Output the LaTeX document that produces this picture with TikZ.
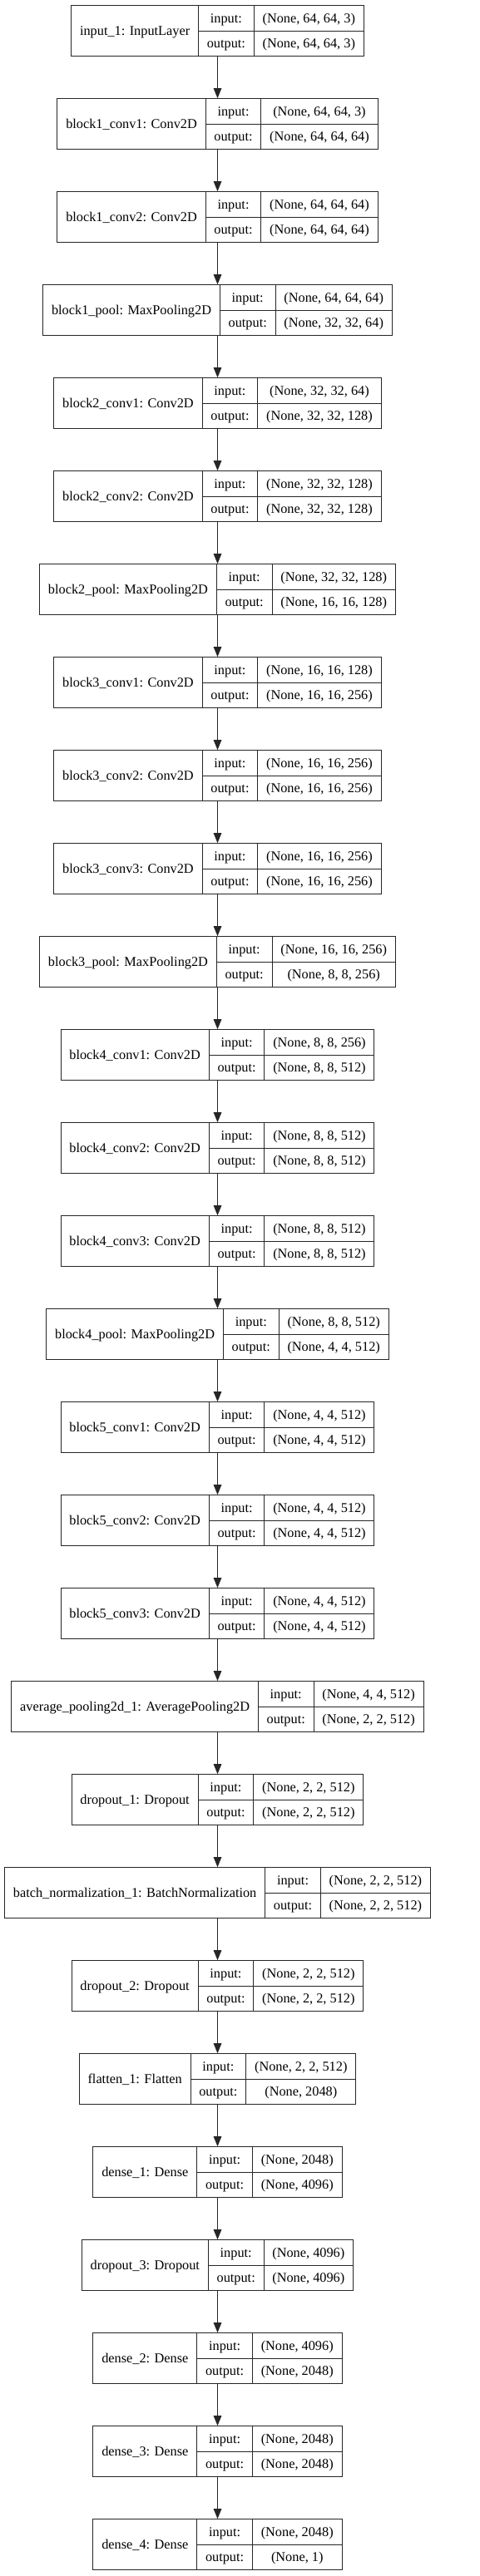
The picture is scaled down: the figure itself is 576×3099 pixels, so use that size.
\documentclass[tikz,border=0pt]{standalone}
\usepackage{fontspec}
\setmainfont{Liberation Serif}
\usetikzlibrary{arrows.meta}
\newcommand\fs{\fontsize{16.3}{19}\selectfont}
\newdimen\dmA \newdimen\dmC \newdimen\dmD
\newcommand\deflayer[4]{%
 \setbox0=\hbox{\fs #2}\dmA=\wd0\relax
 \setbox0=\hbox{\fs #3}\dmC=\wd0\relax
 \setbox0=\hbox{\fs #4}\dmD=\wd0\relax
 \ifdim\dmD>\dmC \dmC=\dmD\fi
 \advance\dmA by 20.6pt\relax
 \advance\dmC by 20.6pt\relax
 \expandafter\xdef\csname LWA#1\endcsname{\strip@pt\dmA}%
 \expandafter\xdef\csname LWC#1\endcsname{\strip@pt\dmC}%
 \expandafter\gdef\csname LT#1\endcsname{#2}%
 \expandafter\gdef\csname LI#1\endcsname{#3}%
 \expandafter\gdef\csname LO#1\endcsname{#4}%
}
\makeatletter
\renewcommand\deflayer[4]{%
 \setbox0=\hbox{\fs #2}\dmA=\wd0\relax
 \setbox0=\hbox{\fs #3}\dmC=\wd0\relax
 \setbox0=\hbox{\fs #4}\dmD=\wd0\relax
 \ifdim\dmD>\dmC \dmC=\dmD\fi
 \advance\dmA by 20.6pt\relax
 \advance\dmC by 20.6pt\relax
 \expandafter\xdef\csname LWA#1\endcsname{\strip@pt\dmA}%
 \expandafter\xdef\csname LWC#1\endcsname{\strip@pt\dmC}%
 \expandafter\gdef\csname LT#1\endcsname{#2}%
 \expandafter\gdef\csname LI#1\endcsname{#3}%
 \expandafter\gdef\csname LO#1\endcsname{#4}%
}
\newcommand\getwB{\setbox0=\hbox{\fs output:}\dmA=\wd0\relax\advance\dmA by 20.6pt\relax\xdef\LWB{\strip@pt\dmA}}
\makeatother
\newcommand\layerbox[1]{%
 \edef\wA{\csname LWA#1\endcsname}%
 \edef\wC{\csname LWC#1\endcsname}%
 \pgfmathsetmacro\tot{\wA+\LWB+\wC}%
 \pgfmathsetmacro\xl{261.5-\tot/2}%
 \pgfmathsetmacro\xa{\xl+\wA}%
 \pgfmathsetmacro\xb{\xa+\LWB}%
 \pgfmathsetmacro\xc{\xl+\tot}%
 \pgfmathsetmacro\yc{37.2+112*#1}%
 \node[lbox, minimum width=\tot pt] (L#1) at (261.5,\yc) {};
 \draw[cell] (\xa,\yc-30.5) -- (\xa,\yc+30.5) (\xb,\yc-30.5) -- (\xb,\yc+30.5) (\xa,\yc) -- (\xc,\yc);
 \node[txt] (L#1-l) at ({(\xl+\xa)/2},\yc+5.2) {\csname LT#1\endcsname};
 \node[txt] (L#1-i) at ({(\xa+\xb)/2},\yc-15.25+5.2) {input:};
 \node[txt] (L#1-o) at ({(\xa+\xb)/2},\yc+15.25+5.2) {output:};
 \node[txt] (L#1-si) at ({(\xb+\xc)/2},\yc-15.25+5.2) {\csname LI#1\endcsname};
 \node[txt] (L#1-so) at ({(\xb+\xc)/2},\yc+15.25+5.2) {\csname LO#1\endcsname};
}
\tikzset{
 lbox/.style={draw=black!85, line width=1pt, minimum height=61pt, inner sep=0pt, fill=none},
 cell/.style={draw=black!85, line width=1pt},
 txt/.style={font=\fs, anchor=base, inner sep=0pt},
 arr/.style={draw=black!85, line width=1pt, -{Triangle[length=12pt,width=9.5pt]}}
}
\begin{document}%
\getwB%
\deflayer{0}{input\_1: InputLayer}{(None, 64, 64, 3)}{(None, 64, 64, 3)}%
\deflayer{1}{block1\_conv1: Conv2D}{(None, 64, 64, 3)}{(None, 64, 64, 64)}%
\deflayer{2}{block1\_conv2: Conv2D}{(None, 64, 64, 64)}{(None, 64, 64, 64)}%
\deflayer{3}{block1\_pool: MaxPooling2D}{(None, 64, 64, 64)}{(None, 32, 32, 64)}%
\deflayer{4}{block2\_conv1: Conv2D}{(None, 32, 32, 64)}{(None, 32, 32, 128)}%
\deflayer{5}{block2\_conv2: Conv2D}{(None, 32, 32, 128)}{(None, 32, 32, 128)}%
\deflayer{6}{block2\_pool: MaxPooling2D}{(None, 32, 32, 128)}{(None, 16, 16, 128)}%
\deflayer{7}{block3\_conv1: Conv2D}{(None, 16, 16, 128)}{(None, 16, 16, 256)}%
\deflayer{8}{block3\_conv2: Conv2D}{(None, 16, 16, 256)}{(None, 16, 16, 256)}%
\deflayer{9}{block3\_conv3: Conv2D}{(None, 16, 16, 256)}{(None, 16, 16, 256)}%
\deflayer{10}{block3\_pool: MaxPooling2D}{(None, 16, 16, 256)}{(None, 8, 8, 256)}%
\deflayer{11}{block4\_conv1: Conv2D}{(None, 8, 8, 256)}{(None, 8, 8, 512)}%
\deflayer{12}{block4\_conv2: Conv2D}{(None, 8, 8, 512)}{(None, 8, 8, 512)}%
\deflayer{13}{block4\_conv3: Conv2D}{(None, 8, 8, 512)}{(None, 8, 8, 512)}%
\deflayer{14}{block4\_pool: MaxPooling2D}{(None, 8, 8, 512)}{(None, 4, 4, 512)}%
\deflayer{15}{block5\_conv1: Conv2D}{(None, 4, 4, 512)}{(None, 4, 4, 512)}%
\deflayer{16}{block5\_conv2: Conv2D}{(None, 4, 4, 512)}{(None, 4, 4, 512)}%
\deflayer{17}{block5\_conv3: Conv2D}{(None, 4, 4, 512)}{(None, 4, 4, 512)}%
\deflayer{18}{average\_pooling2d\_1: AveragePooling2D}{(None, 4, 4, 512)}{(None, 2, 2, 512)}%
\deflayer{19}{dropout\_1: Dropout}{(None, 2, 2, 512)}{(None, 2, 2, 512)}%
\deflayer{20}{batch\_normalization\_1: BatchNormalization}{(None, 2, 2, 512)}{(None, 2, 2, 512)}%
\deflayer{21}{dropout\_2: Dropout}{(None, 2, 2, 512)}{(None, 2, 2, 512)}%
\deflayer{22}{flatten\_1: Flatten}{(None, 2, 2, 512)}{(None, 2048)}%
\deflayer{23}{dense\_1: Dense}{(None, 2048)}{(None, 4096)}%
\deflayer{24}{dropout\_3: Dropout}{(None, 4096)}{(None, 4096)}%
\deflayer{25}{dense\_2: Dense}{(None, 4096)}{(None, 2048)}%
\deflayer{26}{dense\_3: Dense}{(None, 2048)}{(None, 2048)}%
\deflayer{27}{dense\_4: Dense}{(None, 2048)}{(None, 1)}%
\begin{tikzpicture}[x=1pt,y=-1pt]
\useasboundingbox (0,0) rectangle (576,3099);
\foreach \k in {0,...,27} {\layerbox{\k}}
\foreach \i [evaluate=\i as \j using int(\i+1)] in {0,...,26}
  \draw[arr] (L\i.south) -- (L\j.north);
\end{tikzpicture}%
\end{document}
